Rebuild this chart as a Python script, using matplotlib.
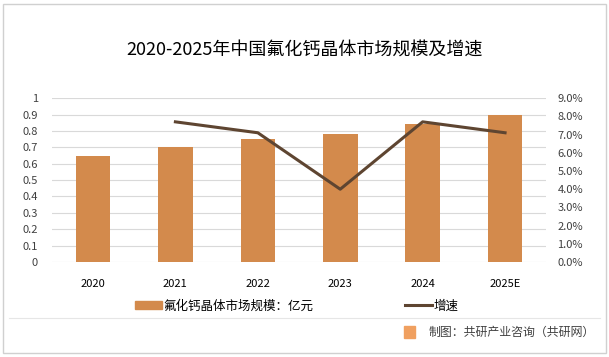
import matplotlib.pyplot as plt
from matplotlib.ticker import FuncFormatter, MultipleLocator
from matplotlib.patches import Rectangle
from matplotlib.lines import Line2D

plt.rcParams['font.family'] = ['Noto Sans CJK SC', 'DejaVu Sans']

years = ['2020', '2021', '2022', '2023', '2024', '2025E']
market_size = [0.65, 0.70, 0.75, 0.78, 0.84, 0.90]
growth_years = ['2021', '2022', '2023', '2024', '2025E']
growth = [7.7, 7.1, 4.0, 7.7, 7.1]

bar_color = '#D38A4C'
line_color = '#5E4531'
grid_color = '#D9D9D9'

fig = plt.figure(figsize=(6.09, 3.57), dpi=100)
ax = fig.add_axes([0.085, 0.266, 0.812, 0.459])

x = range(len(years))
ax.bar(x, market_size, width=0.42, color=bar_color, zorder=2)
ax.set_ylim(0, 1)
ax.yaxis.set_major_locator(MultipleLocator(0.1))
ax.yaxis.set_major_formatter(FuncFormatter(lambda v, p: '0' if v == 0 else ('1' if abs(v - 1) < 1e-9 else f'{v:.1f}')))
ax.set_xlim(-0.5, len(years) - 0.5)
ax.set_xticks(list(x))
ax.set_xticklabels(years)
ax.grid(axis='y', color=grid_color, linewidth=0.8, zorder=0)
for s in ax.spines.values():
    s.set_visible(False)
ax.tick_params(axis='both', length=0, labelsize=8, colors='#404040')
ax.tick_params(axis='x', pad=12, labelcolor='black')
ax.tick_params(axis='y', pad=10)

ax2 = ax.twinx()
gx = [years.index(y) for y in growth_years]
ax2.plot(gx, growth, color=line_color, linewidth=2.2, zorder=3)
ax2.set_ylim(0, 9)
ax2.yaxis.set_major_locator(MultipleLocator(1))
ax2.yaxis.set_major_formatter(FuncFormatter(lambda v, p: f'{v:.1f}%'))
for s in ax2.spines.values():
    s.set_visible(False)
ax2.tick_params(axis='y', length=0, labelsize=8, colors='#404040', pad=8)

fig.text(0.5, 0.86, '2020-2025年中国氟化钙晶体市场规模及增速', ha='center', va='center',
         fontsize=13, color='black')

handles = [Rectangle((0, 0), 1, 1, color=bar_color),
           Line2D([0], [0], color=line_color, linewidth=2.2)]
fig.legend(handles, ['氟化钙晶体市场规模：亿元', '增速'], loc='center',
           bbox_to_anchor=(0.487, 0.143), ncol=2, frameon=False, fontsize=9,
           columnspacing=7.3, handlelength=2.2, handletextpad=0.1)

fig.add_artist(Line2D([0.015, 0.985], [0.108, 0.108], color='#E6E6E6', linewidth=0.8))
fig.add_artist(Rectangle((0.664, 0.054), 0.018, 0.032, color='#F0A060', transform=fig.transFigure))
fig.text(0.977, 0.068, '制图：共研产业咨询（共研网）', ha='right', va='center', fontsize=8.6, color='#404040')

fig.add_artist(Rectangle((0.005, 0.01), 0.99, 0.98, fill=False, edgecolor='#D0D0D0',
                         linewidth=1, transform=fig.transFigure))

fig.savefig('out.png', dpi=100)
